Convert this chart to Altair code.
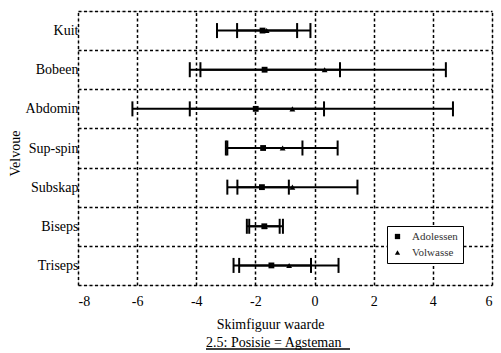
import altair as alt
import pandas as pd

# Skinfold values per muscle site, two age groups: mean with lower/upper bound
muscles = ["Kuit", "Bobeen", "Abdomin", "Sup-spin", "Subskap", "Biseps", "Triseps"]
groups = ["Adolessen", "Volwasse"]

adol_mean = [-1.76, -1.69, -1.99, -1.74, -1.78, -1.70, -1.46]
adol_lo = [-3.30, -4.22, -4.22, -3.00, -2.61, -2.21, -2.74]
adol_hi = [-0.14, 0.86, 0.32, -0.41, -0.87, -1.18, -0.12]

vol_mean = [-1.62, 0.34, -0.75, -1.08, -0.75, -1.68, -0.86]
vol_lo = [-2.62, -3.86, -6.16, -2.95, -2.95, -2.29, -2.55]
vol_hi = [-0.59, 4.44, 4.68, 0.78, 1.45, -1.07, 0.81]

x_ticks = [-8, -6, -4, -2, 0, 2, 4, 6]
caption = "2.5: Posisie = Agsteman"

rows = []
for i, m in enumerate(muscles):
    rows.append(dict(spier=m, groep=groups[0], gem=adol_mean[i], lo=adol_lo[i], hi=adol_hi[i]))
    rows.append(dict(spier=m, groep=groups[1], gem=vol_mean[i], lo=vol_lo[i], hi=vol_hi[i]))
df = pd.DataFrame(rows)

SERIF = "Liberation Serif, Times New Roman, serif"

x_scale = alt.Scale(domain=[-8, 6], nice=False, zero=False)
x_axis = alt.Axis(
    values=x_ticks, labelExpr="'' + datum.value",
    grid=True, gridDash=[3, 2.5], gridColor="black", gridWidth=1.5,
    gridOpacity=1, ticks=False, tickSize=0, domain=False, labelPadding=9,
    labelFont=SERIF, labelFontSize=14, labelColor="black",
    title="Skimfiguur waarde", titleFont=SERIF, titleFontSize=14, titleFontWeight="normal",
    titleColor="black", titleX=192, titleY=43, titleBaseline="alphabetic", titleAnchor="middle",
)
y_enc = alt.Y(
    "spier:N", sort=muscles,
    scale=alt.Scale(paddingInner=0, paddingOuter=0),
    axis=alt.Axis(
        tickBand="extent", grid=True, gridDash=[3, 2.5], gridColor="black", gridWidth=1.5,
        gridOpacity=1, ticks=False, tickSize=0, domain=False, labelPadding=0,
        labelFont=SERIF, labelFontSize=14, labelColor="black",
        title="Velvoue", titleFont=SERIF, titleFontSize=14, titleFontWeight="normal",
        titleColor="black", titleX=-63, titleY=142, titleBaseline="middle", titleAlign="center",
    ),
)

base = alt.Chart(df)

bars = base.mark_rule(color="black", strokeWidth=2).encode(
    x=alt.X("lo:Q", scale=x_scale, axis=x_axis),
    x2="hi:Q",
    y=y_enc,
)
caps_lo = base.mark_tick(color="black", thickness=2, size=15, opacity=1).encode(
    x=alt.X("lo:Q", scale=x_scale, axis=x_axis), y=y_enc
)
caps_hi = base.mark_tick(color="black", thickness=2, size=15, opacity=1).encode(
    x=alt.X("hi:Q", scale=x_scale, axis=x_axis), y=y_enc
)
points = base.mark_point(filled=True, color="black", size=34, opacity=1).encode(
    x=alt.X("gem:Q", scale=x_scale, axis=x_axis),
    y=y_enc,
    shape=alt.Shape(
        "groep:N",
        scale=alt.Scale(domain=groups, range=["square", "triangle-up"]),
        legend=alt.Legend(
            title=None, orient="none", legendX=309, legendY=215,
            fillColor="white", strokeColor="black",
            padding=5, rowPadding=4, labelFont=SERIF, labelFontSize=11,
            labelColor="#333333", symbolSize=28, symbolFillColor="black",
            symbolStrokeColor="black", symbolStrokeWidth=0, labelOffset=9,
        ),
    ),
)

cap_df = pd.DataFrame({"t": [caption]})
caption_text = alt.Chart(cap_df).mark_text(
    font=SERIF, fontSize=14, align="left", baseline="alphabetic", color="black"
).encode(text="t:N", x=alt.value(128), y=alt.value(336))
caption_line = alt.Chart(cap_df).mark_rule(color="black", strokeWidth=1.5).encode(
    x=alt.value(128), x2=alt.value(272), y=alt.value(338)
)

chart = alt.layer(bars, caps_lo, caps_hi, points, caption_text, caption_line).properties(
    width=414, height=274,
    padding={"left": 78, "top": 11, "right": 9, "bottom": 68},
    autosize=alt.AutoSizeParams(type="none"),
).configure_view(stroke="black", strokeWidth=2).configure_legend(
    strokeWidth=1.5
).configure(background="white", font=SERIF)

chart.save("out.html", embed_options={"renderer": "svg", "actions": False})
